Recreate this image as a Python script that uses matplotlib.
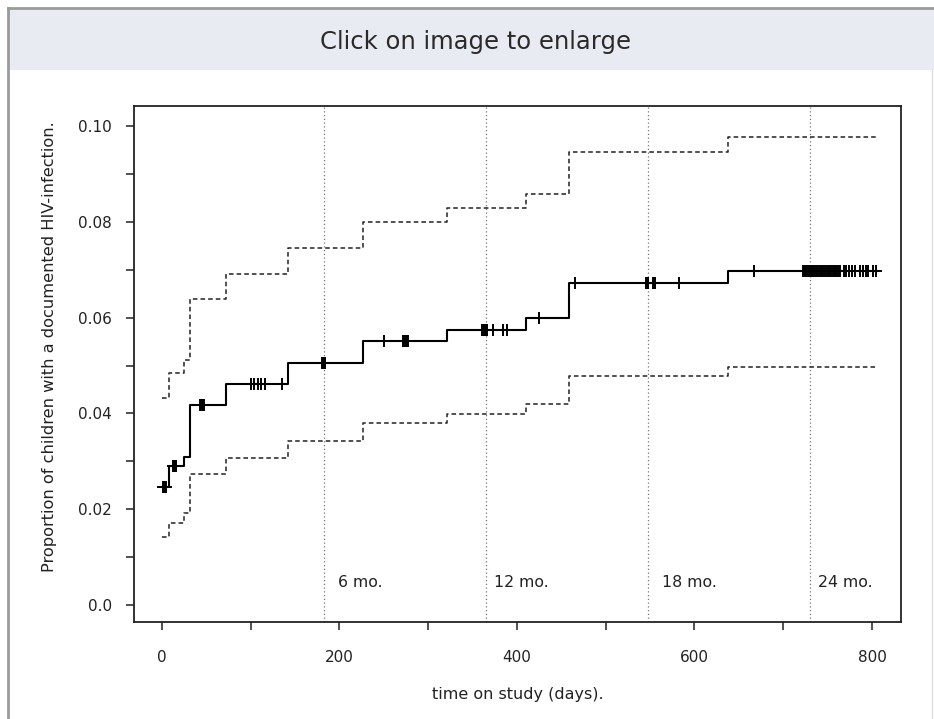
import numpy as np
import matplotlib
matplotlib.use("Agg")
import matplotlib.pyplot as plt
from matplotlib.patches import Rectangle
from matplotlib.lines import Line2D

# ---- data ----
step_times = [0, 8, 25, 32, 72, 142, 227, 321, 410, 459, 638]
estimate = [0.0246, 0.0290, 0.0309, 0.0418, 0.0461, 0.0505, 0.0551, 0.0575, 0.0599, 0.0672, 0.0698]
upper_ci = [0.0432, 0.0484, 0.0511, 0.0638, 0.0691, 0.0745, 0.0800, 0.0829, 0.0858, 0.0946, 0.0977]
lower_ci = [0.0142, 0.0171, 0.0192, 0.0273, 0.0307, 0.0343, 0.0380, 0.0399, 0.0420, 0.0478, 0.0497]
end_time = 806

censor_times = [1, 2, 3, 4,
                13, 14, 15, 16,
                43, 44, 45, 46, 47,
                100, 104, 108, 112, 116, 135,
                180, 181, 182, 183, 184,
                250, 272, 273, 274, 275, 276, 277,
                361, 362, 363, 364, 365, 366, 373, 384, 389,
                425, 465,
                545, 546, 547, 548, 553, 554, 555, 556, 583,
                667,
                722, 724, 726, 728, 730, 732, 734, 736, 738, 740, 742, 744,
                746, 748, 750, 752, 754, 756, 758, 760, 762, 764,
                768, 771, 774, 778, 781, 787, 790, 793, 796, 801, 804]

month_lines = [182.5, 365, 547.5, 730]
month_labels = ["6 mo.", "12 mo.", "18 mo.", "24 mo."]
month_label_x = [198, 374, 563, 739]

x_ticks = [0, 100, 200, 300, 400, 500, 600, 700, 800]
x_ticklabels = ["0", "", "200", "", "400", "", "600", "", "800"]
y_ticks = [0.0, 0.01, 0.02, 0.03, 0.04, 0.05, 0.06, 0.07, 0.08, 0.09, 0.10]
y_ticklabels = ["0.0", "", "0.02", "", "0.04", "", "0.06", "", "0.08", "", "0.10"]

title = "Click on image to enlarge"
xlabel = "time on study (days)."
ylabel = "Proportion of children with a documented HIV-infection."

# ---- figure ----
W, H = 934, 719
plt.rcParams["font.family"] = ["DejaVu Sans"]
fig = plt.figure(figsize=(W / 100, H / 100), dpi=100)
fig.patch.set_facecolor("white")

def fx(px):
    return px / W

def fy(py):
    return 1 - py / H

TXT = "#222222"

# header band and frame
fig.patches.append(Rectangle((fx(8), fy(70)), fx(934 - 8), fy(8) - fy(70),
                             transform=fig.transFigure, facecolor="#e8ebf2",
                             edgecolor="none", zorder=0))
fig.lines.append(Line2D([fx(8), fx(8)], [fy(8), 0], transform=fig.transFigure,
                        color="#9a9a9a", lw=2))
fig.lines.append(Line2D([fx(8), 1], [fy(8), fy(8)], transform=fig.transFigure,
                        color="#9a9a9a", lw=2))
fig.lines.append(Line2D([fx(932), fx(932)], [fy(70), 0], transform=fig.transFigure,
                        color="#dddddd", lw=1))
fig.text(fx(476), fy(42), title, ha="center", va="center", fontsize=17.5,
         color="#2a2a2a")

ax = fig.add_axes([fx(134), fy(622), fx(901 - 134), fy(106) - fy(622)])

t = step_times + [end_time]
def stairs(vals):
    return vals + [vals[-1]]

ax.step(t, stairs(estimate), where="post", color="black", lw=1.5, zorder=3)
ax.step(t, stairs(upper_ci), where="post", color="#222222", lw=1.1,
        linestyle=(0, (3, 2)), zorder=2)
ax.step(t, stairs(lower_ci), where="post", color="#222222", lw=1.1,
        linestyle=(0, (3, 2)), zorder=2)

idx = np.searchsorted(np.array(step_times), np.array(censor_times), side="right") - 1
cy = np.array(estimate)[idx]
ax.plot(censor_times, cy, linestyle="none", marker="+", markersize=9,
        markeredgewidth=1.4, color="black", zorder=4)

for xv in month_lines:
    ax.axvline(xv, color="#777777", lw=0.9, linestyle=(0, (1, 2)), zorder=1)
for xt, lab in zip(month_label_x, month_labels):
    ax.text(xt, 0.0046, lab, ha="left", va="center", fontsize=11.3, color=TXT)

ax.set_xlim(-31.5, 832.7)
ax.set_ylim(-0.00355, 0.1042)
ax.set_xticks(x_ticks)
ax.set_xticklabels(x_ticklabels)
ax.set_yticks(y_ticks)
ax.set_yticklabels(y_ticklabels)
ax.tick_params(axis="both", direction="out", length=6, width=1.1,
               labelsize=11, colors=TXT)
ax.tick_params(axis="x", pad=14)
ax.tick_params(axis="y", pad=10)
for s in ax.spines.values():
    s.set_linewidth(1.3)
    s.set_color("#222222")

fig.text(fx(518), fy(695), xlabel, ha="center", va="center", fontsize=11.5,
         color=TXT)
fig.text(fx(50), fy(347), ylabel, ha="center", va="center", rotation=90,
         fontsize=11.7, color=TXT)

fig.savefig("out.png", dpi=100, facecolor="white")
